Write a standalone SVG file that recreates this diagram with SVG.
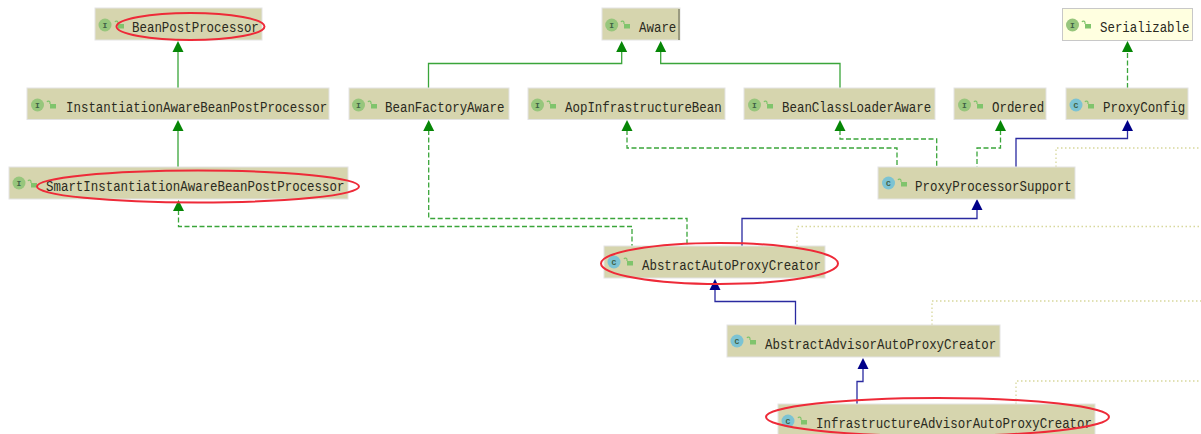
<svg xmlns="http://www.w3.org/2000/svg" width="1201" height="434" viewBox="0 0 1201 434">
<style>
.box{fill:#d6d5ae;stroke:#e3e3e3;stroke-width:1}
.ser{fill:#ffffe0;stroke:#c8c8c8;stroke-width:1}
.t{font-family:"Liberation Mono",monospace;font-size:14px;fill:#2a2a20}
.l{font-family:"Liberation Mono",monospace;font-size:8px;font-weight:bold;fill:#3f5f45;text-anchor:middle}
.ii{fill:#97c67c}
.ic{fill:#7cc3d3}
.lk{fill:#80c46c}
.c{fill:none;stroke-width:1.3}
.g{stroke:#3aa53a}
.d{stroke-dasharray:5 2.5}
.b{stroke:#2a2aa0}
.o{stroke:#d8d89c;stroke-dasharray:1.5 2.5}
.ag{fill:#068606}
.ab{fill:#000088}
.r{fill:none;stroke:#ee2a38;stroke-width:2}
</style>
<defs>
<g id="lock"><rect x="-2" y="-1" width="6" height="4.500" class="lk"/><path d="M-2-1v-1.500a1.600 1.600 0 0 0-3-.500" fill="none" stroke="#80c46c" stroke-width="1.200"/></g>
<path id="ag" class="ag" d="M0 0l5.500 11h-11z"/>
<path id="ab" class="ab" d="M0 0l5.500 11h-11z"/>
</defs>
<g id="connectors">
<path class="c g" d="M178 88V50M178 167V129M428.500 88V63.500H621.700V50M840 88V63.500H660.700V50"/>
<path class="c g d" d="M428.700 130V218.500H687V246M178.500 210V226.500H632V246M627 130V148H897V167M840 130V139H936.700V167M1000.500 130V148H977V167M1127.500 88V50"/>
<path class="c b" d="M1016 167V138.500H1127.500V130M742 246V218.500H977V209M715 288V301.500H795.500V325M863 367V381.500H857V404"/>
<path class="c o" d="M1056 167V148H1201M797 246V226.500H1201M932 325V301H1201M1016 404V381H1201"/>
<use href="#ag" x="178" y="41"/><use href="#ag" x="178" y="120"/><use href="#ag" x="178.500" y="200"/>
<use href="#ag" x="621.700" y="41"/><use href="#ag" x="660.700" y="41"/><use href="#ag" x="1127.500" y="41"/>
<use href="#ag" x="428.700" y="120"/><use href="#ag" x="627" y="120"/><use href="#ag" x="840" y="120"/><use href="#ag" x="1000.500" y="120"/>
<use href="#ab" x="1127.500" y="120"/><use href="#ab" x="977" y="199"/><use href="#ab" x="715" y="279"/><use href="#ab" x="863" y="358"/>
</g>
<g id="n-BeanPostProcessor"><rect class="box" x="95" y="8" width="167" height="32"/><circle class="ii" cx="105" cy="25" r="6.500"/><text class="l" x="105" y="27.500">I</text><use href="#lock" x="120" y="25"/><text class="t" x="132" y="31.500" textLength="126.800" lengthAdjust="spacingAndGlyphs">BeanPostProcessor</text></g>
<g id="n-InstantiationAwareBeanPostProcessor"><rect class="box" x="27" y="88" width="302" height="31.500"/><circle class="ii" cx="37.500" cy="105" r="6.500"/><text class="l" x="37.500" y="107.500">I</text><use href="#lock" x="52" y="105"/><text class="t" x="66" y="111.500" textLength="261.100" lengthAdjust="spacingAndGlyphs">InstantiationAwareBeanPostProcessor</text></g>
<g id="n-SmartInstantiationAwareBeanPostProcessor"><rect class="box" x="9" y="167" width="339" height="32"/><circle class="ii" cx="19" cy="183" r="6.500"/><text class="l" x="19" y="185.500">I</text><use href="#lock" x="33" y="184"/><text class="t" x="46" y="190.500" textLength="298.400" lengthAdjust="spacingAndGlyphs">SmartInstantiationAwareBeanPostProcessor</text></g>
<g id="n-BeanFactoryAware"><rect class="box" x="349" y="88" width="160" height="31.500"/><circle class="ii" cx="358.500" cy="105" r="6.500"/><text class="l" x="358.500" y="107.500">I</text><use href="#lock" x="373" y="105"/><text class="t" x="385" y="111.500" textLength="119.400" lengthAdjust="spacingAndGlyphs">BeanFactoryAware</text></g>
<g id="n-Aware"><rect class="box" x="602" y="8" width="78" height="32"/><rect x="678" y="9" width="2" height="31" fill="#9a9a80"/><circle class="ii" cx="611.700" cy="25" r="6.500"/><text class="l" x="611.700" y="27.500">I</text><use href="#lock" x="626" y="25"/><text class="t" x="639" y="31.500" textLength="37.300" lengthAdjust="spacingAndGlyphs">Aware</text></g>
<g id="n-AopInfrastructureBean"><rect class="box" x="528" y="88" width="197" height="31.500"/><circle class="ii" cx="537.500" cy="105" r="6.500"/><text class="l" x="537.500" y="107.500">I</text><use href="#lock" x="552" y="105"/><text class="t" x="565" y="111.500" textLength="156.700" lengthAdjust="spacingAndGlyphs">AopInfrastructureBean</text></g>
<g id="n-BeanClassLoaderAware"><rect class="box" x="744" y="88" width="191" height="31.500"/><circle class="ii" cx="754.500" cy="105" r="6.500"/><text class="l" x="754.500" y="107.500">I</text><use href="#lock" x="769" y="105"/><text class="t" x="782" y="111.500" textLength="149.200" lengthAdjust="spacingAndGlyphs">BeanClassLoaderAware</text></g>
<g id="n-Ordered"><rect class="box" x="954" y="88" width="92" height="31.500"/><circle class="ii" cx="964.500" cy="105" r="6.500"/><text class="l" x="964.500" y="107.500">I</text><use href="#lock" x="979" y="105"/><text class="t" x="992" y="111.500" textLength="52.200" lengthAdjust="spacingAndGlyphs">Ordered</text></g>
<g id="n-ProxyConfig"><rect class="box" x="1066" y="88" width="122" height="31.500"/><circle class="ic" cx="1076" cy="105" r="6.500"/><text class="l" x="1076" y="107.500">C</text><use href="#lock" x="1090" y="105"/><text class="t" x="1103" y="111.500" textLength="82.100" lengthAdjust="spacingAndGlyphs">ProxyConfig</text></g>
<g id="n-Serializable"><rect class="ser" x="1062.500" y="8.500" width="130" height="32"/><circle class="ii" cx="1072.500" cy="25" r="6.500"/><text class="l" x="1072.500" y="27.500">I</text><use href="#lock" x="1087" y="25"/><text class="t" x="1100" y="31.500" textLength="89.500" lengthAdjust="spacingAndGlyphs">Serializable</text></g>
<g id="n-ProxyProcessorSupport"><rect class="box" x="878" y="167" width="197" height="32"/><circle class="ic" cx="888.500" cy="183" r="6.500"/><text class="l" x="888.500" y="185.500">C</text><use href="#lock" x="903" y="183"/><text class="t" x="915" y="190.500" textLength="156.700" lengthAdjust="spacingAndGlyphs">ProxyProcessorSupport</text></g>
<g id="n-AbstractAutoProxyCreator"><rect class="box" x="604" y="246" width="221" height="32"/><circle class="ic" cx="614" cy="262" r="6.500"/><text class="l" x="614" y="264.500">C</text><use href="#lock" x="629" y="262"/><text class="t" x="642" y="269.500" textLength="179" lengthAdjust="spacingAndGlyphs">AbstractAutoProxyCreator</text></g>
<g id="n-AbstractAdvisorAutoProxyCreator"><rect class="box" x="727" y="325" width="273" height="32"/><circle class="ic" cx="737" cy="341" r="6.500"/><text class="l" x="737" y="343.500">C</text><use href="#lock" x="752" y="341"/><text class="t" x="765" y="348.500" textLength="231.300" lengthAdjust="spacingAndGlyphs">AbstractAdvisorAutoProxyCreator</text></g>
<g id="n-InfrastructureAdvisorAutoProxyCreator"><rect class="box" x="778" y="404" width="317" height="32"/><circle class="ic" cx="788" cy="421" r="6.500"/><text class="l" x="788" y="423.500">C</text><use href="#lock" x="803" y="421"/><text class="t" x="816" y="428" textLength="276" lengthAdjust="spacingAndGlyphs">InfrastructureAdvisorAutoProxyCreator</text></g>
<g id="highlights">
<ellipse class="r" cx="190.500" cy="26.500" rx="74" ry="13.500"/>
<ellipse class="r" cx="198" cy="186.500" rx="161" ry="16"/>
<ellipse class="r" cx="719.500" cy="263.500" rx="118.500" ry="20.500"/>
<ellipse class="r" cx="937.500" cy="417" rx="171.500" ry="19"/>
</g>
</svg>
